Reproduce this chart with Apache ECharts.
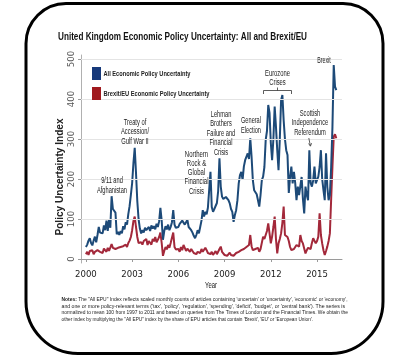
<!DOCTYPE html>
<html><head><meta charset="utf-8">
<script src="https://cdn.jsdelivr.net/npm/echarts@6/dist/echarts.min.js"></script>
<style>html,body{margin:0;padding:0;background:#fff}#c{width:399px;height:356px}</style>
</head><body><div id="c"></div>
<script>
// ---- data ----
const startYear = 2000;
const allEPU = [
  30, 36, 46, 52, 40, 34, 46, 56, 42, 60, 80, 66,
  70, 64, 84, 72, 96, 70, 100, 78, 157, 125, 120, 116,
  62, 68, 60, 70, 64, 82, 74, 92, 86, 112, 132, 160,
  190, 240, 278, 215, 145, 100, 76, 64, 72, 66, 78, 72,
  72, 80, 70, 84, 76, 82, 74, 88, 80, 94, 128, 96,
  48, 70, 82, 74, 86, 72, 80, 92, 122, 86, 78, 80,
  80, 88, 84, 96, 100, 86, 92, 98, 80, 84, 72, 66,
  58, 52, 60, 72, 64, 80, 96, 122, 106, 118, 112, 128,
  132, 218, 130, 118, 125, 122, 140, 170, 252, 181, 156, 150,
  147, 155, 150, 147, 139, 125, 118, 93, 110, 122, 147, 189,
  210, 218, 198, 231, 247, 243, 264, 250, 302, 256, 197, 172,
  177, 162, 147, 131, 160, 197, 206, 230, 297, 320, 385, 365,
  290, 247, 300, 381, 331, 272, 222, 300, 397, 410, 347, 300,
  272, 260, 165, 206, 231, 189, 218, 190, 147, 181, 160, 164,
  205, 150, 114, 181, 160, 147, 272, 190, 181, 197, 231, 189,
  189, 206, 230, 272, 200, 172, 147, 264, 180, 147, 160, 230,
  330, 485, 431, 422
];
const brexitEU = [
  12, 18, 10, 20, 15, 22, 12, 18, 14, 22, 25, 18,
  20, 15, 26, 22, 18, 28, 20, 25, 37, 28, 30, 25,
  22, 28, 24, 30, 26, 32, 28, 36, 30, 40, 46, 55,
  72, 95, 106, 80, 55, 40, 35, 42, 36, 45, 40, 50,
  35, 45, 40, 36, 50, 44, 55, 42, 48, 55, 66, 40,
  8, 20, 30, 24, 35, 28, 40, 45, 66, 30, 24, 20,
  25, 18, 30, 22, 35, 28, 20, 26, 30, 18, 25, 20,
  15, 20, 12, 18, 22, 15, 25, 18, 20, 28, 22, 15,
  15, 12, 18, 10, 14, 20, 12, 16, 25, 31, 18, 14,
  10, 14, 8, 12, 16, 10, 14, 8, 12, 15, 10, 18,
  14, 22, 18, 25, 20, 30, 25, 35, 60, 32, 22, 18,
  25, 20, 28, 18, 25, 30, 56, 50, 60, 70, 89, 64,
  39, 56, 80, 106, 50, 14, 39, 50, 64, 90, 131, 60,
  60, 55, 45, 30, 22, 18, 25, 22, 35, 30, 31, 60,
  45, 39, 39, 14, 22, 28, 31, 25, 40, 52, 47, 39,
  45, 56, 114, 60, 39, 22, 10, 20, 31, 45, 64, 150,
  231, 306, 312, 302
];
const xTickYears = [2000, 2003, 2006, 2009, 2012, 2015];
const yTickValues = [0, 100, 200, 300, 400, 500];
const seriesNames = ['All Economic Policy Uncertainty', 'Brexit/EU Economic Policy Uncertainty'];
const titleText = 'United Kingdom Economic Policy Uncertainty: All and Brexit/EU';
const yAxisName = 'Policy Uncertainty Index';
const xAxisName = 'Year';
const annotationTexts = [
  ['9/11 and', 'Afghanistan'],
  ['Treaty of', 'Accession/', 'Gulf War II'],
  ['Northern', 'Rock &', 'Global', 'Financial', 'Crisis'],
  ['Lehman', 'Brothers', 'Failure and', 'Financial', 'Crisis'],
  ['General', 'Election'],
  ['Eurozone', 'Crises'],
  ['Scottish', 'Independence', 'Referendum'],
  ['Brexit']
];
const notesLines = [
  'The "All EPU" Index reflects scaled monthly counts of articles containing \'uncertain\' or \'uncertainty\', \'economic\' or \'economy\',',
  'and one or more policy-relevant terms (\'tax\', \'policy\', \'regulation\', \'spending\', \'deficit\', \'budget\', or \'central bank\'). The series is',
  'normalized to mean 100 from 1997 to 2011 and based on queries from The Times of London and the Financial Times. We obtain the',
  'other index by multiplying the "All EPU" index by the share of EPU articles that contain \'Brexit\', \'EU\' or \'European Union\'.'
];

// ---- build ----
const toPairs = arr => arr.map((v, i) => [startYear + i / 12, v]);
const mctx = document.createElement('canvas').getContext('2d');
function measure(str, font) { mctx.font = font; return mctx.measureText(str).width; }
const FAM = "'Liberation Sans', Arial, sans-serif";
function txt(str, x, y, size, weight, targetW, align, extra) {
  const font = (weight || 'normal') + ' ' + size + 'px ' + FAM;
  const sx = targetW ? targetW / measure(str, font) : 1;
  return Object.assign({
    type: 'text', x: x, y: y, scaleX: sx, silent: true, z: 20,
    style: { text: str, font: font, fill: '#222', textAlign: align || 'center', textVerticalAlign: 'middle' }
  }, extra || {});
}
function block(lines, cx, ys, size, targetW) {
  const font = 'normal ' + size + 'px ' + FAM;
  let maxW = 0; lines.forEach(l => { maxW = Math.max(maxW, measure(l, font)); });
  const sx = targetW / maxW;
  return lines.map((l, i) => ({
    type: 'text', x: cx, y: ys[i], scaleX: sx, silent: true, z: 20,
    style: { text: l, font: font, fill: '#222', textAlign: 'center', textVerticalAlign: 'middle' }
  }));
}

const graphics = [];
// outer rounded frame
graphics.push({ type: 'rect', silent: true, z: 0,
  shape: { x: 26, y: 3.5, width: 357, height: 350, r: [40, 40, 52, 52] },
  style: { fill: 'none', stroke: '#000', lineWidth: 3 } });
// title
graphics.push(txt(titleText, 58, 37, 11.5, 'bold', 249, 'left', { style: { text: titleText, font: 'bold 11.5px ' + FAM, fill: '#111', textAlign: 'left', textVerticalAlign: 'middle' } }));
// legend
const legendColors = ['#17397a', '#a01a1f'];
[[67, 74], [87, 93.5]].forEach((p, i) => {
  graphics.push({ type: 'rect', silent: true, z: 20, shape: { x: 92, y: p[0], width: 9, height: 13 }, style: { fill: legendColors[i] } });
});
graphics.push(txt(seriesNames[0], 103.5, 74, 8, 'bold', 87, 'left'));
graphics.push(txt(seriesNames[1], 103.5, 93.5, 8, 'bold', 106, 'left'));
// y axis name
graphics.push(txt(yAxisName, 60, 177, 10.5, 'bold', 117, 'center', { rotation: Math.PI / 2 }));
// x axis name
graphics.push(txt(xAxisName, 211, 285.5, 9, 'normal', 12, 'center'));
// annotations
const A = annotationTexts;
graphics.push(...block(A[0], 112, [181, 190.5], 8.5, 30));
graphics.push(...block(A[1], 135, [122.5, 132, 141.5], 8.5, 28));
graphics.push(...block(A[2], 196.5, [154.3, 163.5, 172.8, 182, 191.2], 8.5, 24));
graphics.push(...block(A[3], 221, [114.7, 124, 133.6, 143, 152.3], 8.5, 28.5));
graphics.push(...block(A[4], 251, [120.7, 130.5], 8.5, 20));
graphics.push(...block(A[5], 277.5, [73.3, 82.7], 8.5, 25));
graphics.push(...block(A[6], 310, [113.3, 122.7, 132.3], 8.5, 36.5));
graphics.push(...block(A[7], 324, [61], 8.5, 13.5));
// eurozone bracket
graphics.push({ type: 'polyline', silent: true, z: 20, shape: { points: [[263.5, 94], [263.5, 90.5], [291.5, 90.5], [291.5, 94]] }, style: { stroke: '#333', lineWidth: 0.8, fill: 'none' } });
graphics.push({ type: 'line', silent: true, z: 20, shape: { x1: 277.5, y1: 90.5, x2: 277.5, y2: 87.5 }, style: { stroke: '#333', lineWidth: 0.8 } });
// scottish arrow
graphics.push({ type: 'line', silent: true, z: 20, shape: { x1: 308.8, y1: 138, x2: 310.3, y2: 145.5 }, style: { stroke: '#333', lineWidth: 0.8 } });
graphics.push({ type: 'polyline', silent: true, z: 20, shape: { points: [[308.6, 143.5], [310.4, 146.2], [311.6, 143.2]] }, style: { stroke: '#333', lineWidth: 0.8, fill: 'none' } });
// notes
const NF = 5.6;
graphics.push({ type: 'text', x: 61.5, y: 299.5, silent: true, z: 20,
  scaleX: 285 / measure('Notes: ' + notesLines[0], 'normal ' + NF + 'px ' + FAM),
  style: { text: '{b|Notes:} ' + notesLines[0], font: 'normal ' + NF + 'px ' + FAM, fill: '#222', textAlign: 'left', textVerticalAlign: 'middle',
    rich: { b: { fontWeight: 'bold', fontSize: NF, fontFamily: FAM, fill: '#222' } } } });
[[1, 306.2, 283.5], [2, 312.8, 286.5], [3, 319.4, 251.5]].forEach(r => {
  graphics.push(txt(notesLines[r[0]], 61.5, r[1], NF, 'normal', r[2], 'left'));
});

const axisFont = "'Liberation Sans Narrow', 'Arial Narrow', 'DejaVu Sans Condensed', 'Liberation Sans', sans-serif";
const option = {
  animation: false,
  backgroundColor: '#fff',
  grid: { left: 81, right: 57, top: 55, bottom: 93 },
  xAxis: {
    type: 'value', min: 1999.68, max: 2016.62,
    axisLine: { lineStyle: { color: '#9a9a9a', width: 1 } },
    axisTick: { show: true, length: 3, customValues: xTickYears, lineStyle: { color: '#9a9a9a' } },
    axisLabel: { customValues: xTickYears, color: '#222', fontSize: 9.5, fontFamily: axisFont, margin: 7, formatter: v => String(Math.round(v)) },
    splitLine: { show: false }
  },
  yAxis: {
    type: 'value', min: -10, max: 510,
    axisLine: { show: true, lineStyle: { color: '#b0b0b0', width: 1 } },
    axisTick: { show: true, length: 3, customValues: yTickValues, lineStyle: { color: '#9a9a9a' } },
    axisLabel: { customValues: yTickValues, rotate: 90, color: '#555', fontSize: 9.5, fontFamily: axisFont, margin: 4 },
    splitLine: { show: false }
  },
  series: [
    { type: 'line', name: 'grid', data: [], silent: true, z: 1,
      markLine: { silent: true, symbol: 'none', label: { show: false }, animation: false,
        lineStyle: { color: '#e4e4e4', width: 1, type: 'solid' },
        data: yTickValues.filter(v => v > 0).map(v => ({ yAxis: v })) } },
    { type: 'line', name: seriesNames[1], data: toPairs(brexitEU), showSymbol: false, z: 3,
      lineStyle: { color: '#a3283a', width: 2 }, itemStyle: { color: '#a3283a' } },
    { type: 'line', name: seriesNames[0], data: toPairs(allEPU), showSymbol: false, z: 4,
      lineStyle: { color: '#1d4a78', width: 2 }, itemStyle: { color: '#1d4a78' } }
  ],
  graphic: { elements: graphics }
};
const chart = echarts.init(document.getElementById('c'), null, { renderer: 'canvas' });
chart.setOption(option);
</script></body></html>
